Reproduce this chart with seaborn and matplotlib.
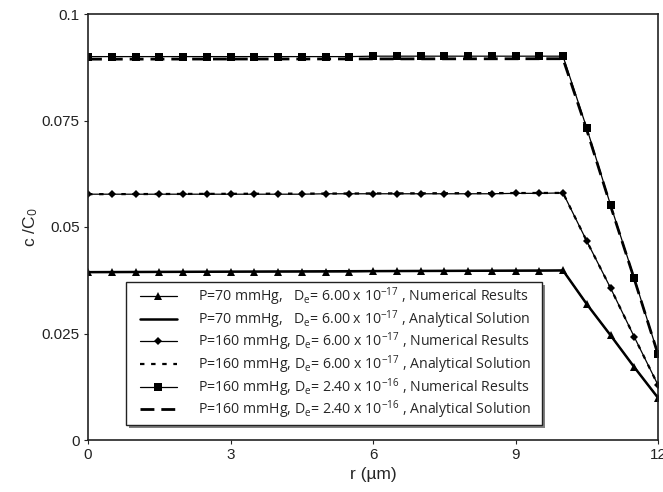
import numpy as np
import pandas as pd
import matplotlib
matplotlib.use("Agg")
import matplotlib.pyplot as plt
from matplotlib.patches import Rectangle
import seaborn as sns

# ---- data ----
r_num = [0.0, 0.5, 1.0, 1.5, 2.0, 2.5, 3.0, 3.5, 4.0, 4.5, 5.0, 5.5, 6.0,
         6.5, 7.0, 7.5, 8.0, 8.5, 9.0, 9.5, 10.0, 10.5, 11.0, 11.5, 12.0]
p70_num = [0.0394, 0.0394, 0.0394, 0.0394, 0.0394, 0.0394, 0.0395, 0.0395,
           0.0395, 0.0395, 0.0395, 0.0395, 0.0396, 0.0396, 0.0396, 0.0396,
           0.0396, 0.0397, 0.0397, 0.0397, 0.0398, 0.0319, 0.0246, 0.0171, 0.0099]
p160_num = [0.0577, 0.0577, 0.0577, 0.0577, 0.0577, 0.0577, 0.0577, 0.0577,
            0.0577, 0.0577, 0.0578, 0.0578, 0.0578, 0.0578, 0.0578, 0.0578,
            0.0578, 0.0578, 0.0579, 0.0579, 0.0580, 0.0467, 0.0357, 0.0242, 0.0129]
p160b_num = [0.0900, 0.0900, 0.0900, 0.0900, 0.0900, 0.0900, 0.0900, 0.0900,
             0.0900, 0.0900, 0.0900, 0.0900, 0.0901, 0.0901, 0.0901, 0.0901,
             0.0901, 0.0901, 0.0901, 0.0901, 0.0901, 0.0732, 0.0552, 0.0380, 0.0202]

r_ana = [0.0, 10.0, 10.5, 11.0, 11.5, 12.0]
p70_ana = [0.0394, 0.0398, 0.0319, 0.0246, 0.0171, 0.0099]
p160_ana = [0.0577, 0.0580, 0.0467, 0.0357, 0.0242, 0.0129]
p160b_ana = [0.0894, 0.0895, 0.0728, 0.0550, 0.0378, 0.0201]

labels = [
    r"P=70 mmHg,   D$_\mathrm{e}$= 6.00 x 10$^{-17}$ , Numerical Results",
    r"P=70 mmHg,   D$_\mathrm{e}$= 6.00 x 10$^{-17}$ , Analytical Solution",
    r"P=160 mmHg, D$_\mathrm{e}$= 6.00 x 10$^{-17}$ , Numerical Results",
    r"P=160 mmHg, D$_\mathrm{e}$= 6.00 x 10$^{-17}$ , Analytical Solution",
    r"P=160 mmHg, D$_\mathrm{e}$= 2.40 x 10$^{-16}$ , Numerical Results",
    r"P=160 mmHg, D$_\mathrm{e}$= 2.40 x 10$^{-16}$ , Analytical Solution",
]
x_ticks = [0, 3, 6, 9, 12]
y_ticks = [0, 0.025, 0.05, 0.075, 0.1]
y_tick_labels = ["0", "0.025", "0.05", "0.075", "0.1"]

# ---- style ----
sns.set_theme(style="ticks")
plt.rcParams["font.family"] = ["Liberation Sans", "DejaVu Sans"]
plt.rcParams["mathtext.fontset"] = "custom"
plt.rcParams["mathtext.rm"] = "Open Sans"
plt.rcParams["mathtext.it"] = "Open Sans:italic"
plt.rcParams["mathtext.bf"] = "Open Sans:bold"

fig = plt.figure(figsize=(6.63, 4.92), dpi=100)
ax = fig.add_axes([88 / 663, 52 / 492, 570 / 663, 426 / 492])

k = "black"
sns.lineplot(x=r_ana, y=p160b_ana, ax=ax, color=k, lw=2.0,
             linestyle=(0, (5, 2.5)), label=labels[5], sort=False)
sns.lineplot(x=r_ana, y=p160_ana, ax=ax, color=k, lw=1.6,
             linestyle=(0, (2, 3)), label=labels[3], sort=False)
sns.lineplot(x=r_ana, y=p70_ana, ax=ax, color=k, lw=1.8,
             linestyle="-", label=labels[1], sort=False)
sns.lineplot(x=r_num, y=p70_num, ax=ax, color=k, lw=0.9, marker="^",
             markersize=6, markeredgewidth=0, label=labels[0], sort=False)
sns.lineplot(x=r_num, y=p160_num, ax=ax, color=k, lw=0.9, marker="D",
             markersize=4, markeredgewidth=0, label=labels[2], sort=False)
sns.lineplot(x=r_num, y=p160b_num, ax=ax, color=k, lw=0.9, marker="s",
             markersize=5.5, markeredgewidth=0, label=labels[4], sort=False)

ax.set_xlim(0, 12)
ax.set_ylim(0, 0.1)
ax.set_xticks(x_ticks)
ax.set_xticklabels([str(t) for t in x_ticks])
ax.set_yticks(y_ticks)
ax.set_yticklabels(y_tick_labels)
ax.tick_params(axis="both", direction="out", length=3, width=0.8,
               labelsize=11, colors="#222222", labelcolor="#222222", pad=3)
for s in ax.spines.values():
    s.set_visible(True)
    s.set_color("#222222")
    s.set_linewidth(1.2)

ax.set_xlabel("r (\u00b5m)", fontsize=12.5, labelpad=3)
ax.set_ylabel(r"c /C$_{\mathrm{0}}$", fontsize=12.5, labelpad=1)

handles, labs = ax.get_legend_handles_labels()
order = [labels.index(l) for l in labs]
pairs = sorted(zip(order, handles, labs))
leg = ax.legend([p[1] for p in pairs], [p[2] for p in pairs],
                loc="lower left", bbox_to_anchor=(0.085, 0.036),
                frameon=False, handlelength=2.6,
                handletextpad=1.5, labelspacing=0.0, borderpad=0.25,
                borderaxespad=0.0,
                prop={"family": "Open Sans", "size": 10.2})
leg.set_zorder(6)

# frame with shadow around the legend, a little wider on the left/right
fig.canvas.draw()
bb = leg.get_window_extent(fig.canvas.get_renderer())
inv = fig.transFigure.inverted()
x0, y0 = inv.transform((bb.x0 - 10, bb.y0))
x1, y1 = inv.transform((bb.x1 + 7, bb.y1))
dx, dy = 3 / 663, 3 / 492
ax.add_patch(Rectangle((x0 + dx, y0 - dy), x1 - x0, y1 - y0,
                       transform=fig.transFigure, facecolor="#808080",
                       edgecolor="none", zorder=5, clip_on=False))
ax.add_patch(Rectangle((x0, y0), x1 - x0, y1 - y0,
                       transform=fig.transFigure, facecolor="white",
                       edgecolor="#222222", linewidth=1.0, zorder=5.5,
                       clip_on=False))

fig.savefig("out.png", dpi=100)
